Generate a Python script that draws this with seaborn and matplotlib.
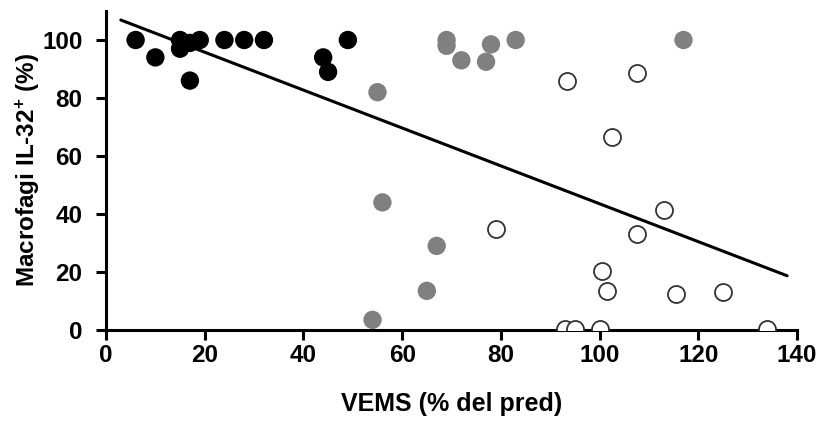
import matplotlib
matplotlib.use("Agg")
import matplotlib.pyplot as plt
import seaborn as sns
import pandas as pd

# FEV1 (% predicted) vs IL-32+ macrophages (%), three patient groups
black_x = [6, 10, 15, 15, 17, 19, 17, 24, 28, 32, 44, 45, 49]
black_y = [100, 94, 100, 97, 99, 100, 86, 100, 100, 100, 94, 89, 100]

gray_x = [55, 69, 69, 72, 77, 78, 83, 117, 56, 67, 65, 54]
gray_y = [82, 100, 98, 93, 92.5, 98.5, 100, 100, 44, 29, 13.5, 3.5]

open_x = [93.5, 107.5, 102.5, 79, 113, 107.5, 100.5, 101.5, 115.5, 125, 93, 95, 100, 134]
open_y = [86, 88.5, 66.5, 35, 41.5, 33, 20.5, 13.5, 12.5, 13, 0.5, 0.5, 0.5, 0.5]

# Linear trend drawn across the plot
trend_x = [3, 138]
trend_y = [106.9, 18.7]

x_ticks = [0, 20, 40, 60, 80, 100, 120, 140]
y_ticks = [0, 20, 40, 60, 80, 100]

sns.set_theme(style="ticks")
plt.rcParams["font.family"] = ["Liberation Sans", "DejaVu Sans"]
plt.rcParams["mathtext.default"] = "regular"
plt.rcParams["text.color"] = "black"
plt.rcParams["axes.labelcolor"] = "black"
plt.rcParams["xtick.color"] = "black"
plt.rcParams["ytick.color"] = "black"

fig = plt.figure(figsize=(8.18, 4.22), dpi=100)
ax = fig.add_axes([106 / 818, 1 - 330 / 422, (797 - 106) / 818, (330 - 11) / 422])

df_black = pd.DataFrame({"x": black_x, "y": black_y})
df_gray = pd.DataFrame({"x": gray_x, "y": gray_y})
df_open = pd.DataFrame({"x": open_x, "y": open_y})
df_trend = pd.DataFrame({"x": trend_x, "y": trend_y})

sns.scatterplot(data=df_gray, x="x", y="y", ax=ax, s=175, color="#808080",
                edgecolor="none", linewidth=0, zorder=3)
sns.scatterplot(data=df_open, x="x", y="y", ax=ax, s=150, color="white",
                edgecolor="#333333", linewidth=1.3, zorder=3)
sns.scatterplot(data=df_black, x="x", y="y", ax=ax, s=175, color="black",
                edgecolor="none", linewidth=0, zorder=4)
sns.lineplot(data=df_trend, x="x", y="y", ax=ax, color="black", linewidth=2.2,
             zorder=5)

ax.set_xlim(0, 140)
ax.set_ylim(0, 110)
ax.set_xticks(x_ticks)
ax.set_yticks(y_ticks)
ax.set_xticklabels([str(t) for t in x_ticks], fontsize=17.5, fontweight="bold")
ax.set_yticklabels([str(t) for t in y_ticks], fontsize=17.5, fontweight="bold")

for side in ("top", "right"):
    ax.spines[side].set_visible(False)
for side in ("left", "bottom"):
    ax.spines[side].set_linewidth(2.2)
    ax.spines[side].set_color("black")
ax.tick_params(axis="both", direction="out", length=7, width=2.2, color="black")
ax.tick_params(axis="x", pad=3)
ax.tick_params(axis="y", pad=10)

ax.set_xlabel("VEMS (% del pred)", fontsize=18, fontweight="bold", labelpad=18)
ax.set_ylabel("Macrofagi IL-32$^{+}$ (%)", fontsize=17.5, fontweight="bold", labelpad=0)

fig.savefig("out.png", dpi=100)
